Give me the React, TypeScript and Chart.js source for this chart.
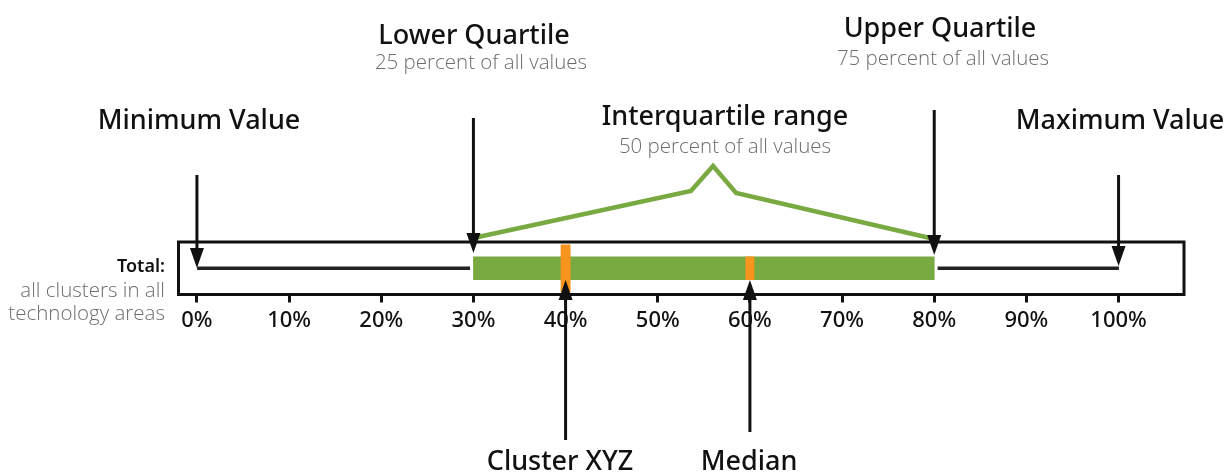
import React, { useEffect, useRef } from 'react';
import { Chart, registerables } from 'chart.js';

Chart.register(...registerables);

// ---- data ----
const categories = ['Total'];
const tickValues = [0, 10, 20, 30, 40, 50, 60, 70, 80, 90, 100];
const tickLabels = ['0%', '10%', '20%', '30%', '40%', '50%', '60%', '70%', '80%', '90%', '100%'];
const whiskerLow = [0, 29.6];
const whiskerHigh = [80.4, 100];
const interquartile = [30, 80];
const clusterXYZ = [39.5, 40.5];
const medianBar = [59.55, 60.45];
const minimumValue = 0;
const lowerQuartile = 30;
const upperQuartile = 80;
const maximumValue = 100;
const clusterValue = 40;
const medianValue = 60;
const iqrPeak = [30, 53.6, 56, 58.5, 80];

const GREEN = '#79a941';
const ORANGE = '#f7941d';
const INK = '#111111';
const GRAY = '#6d6d6d';
const HEAD = '"Noto Sans", sans-serif';
const LIGHT = '"Open Sans", sans-serif';

function arrow(ctx: CanvasRenderingContext2D, x: number, yFrom: number, yTip: number) {
  const dir = yTip > yFrom ? 1 : -1;
  const headLen = 20;
  const headHalf = 7;
  ctx.save();
  ctx.strokeStyle = INK;
  ctx.fillStyle = INK;
  ctx.lineWidth = 3;
  ctx.beginPath();
  ctx.moveTo(x, yFrom);
  ctx.lineTo(x, yTip - dir * headLen * 0.6);
  ctx.stroke();
  ctx.beginPath();
  ctx.moveTo(x, yTip);
  ctx.lineTo(x - headHalf, yTip - dir * headLen);
  ctx.lineTo(x + headHalf, yTip - dir * headLen);
  ctx.closePath();
  ctx.fill();
  ctx.restore();
}

function text(ctx: CanvasRenderingContext2D, s: string, x: number, y: number, font: string, color: string, align: CanvasTextAlign = 'center') {
  ctx.save();
  ctx.font = font;
  ctx.fillStyle = color;
  ctx.textAlign = align;
  ctx.textBaseline = 'alphabetic';
  ctx.fillText(s, x, y);
  ctx.restore();
}

const annotations = {
  id: 'annotations',
  afterDraw(chart: any) {
    const { ctx, chartArea } = chart;
    const xs = chart.scales.x;
    const X = (v: number) => xs.getPixelForValue(v);

    // frame
    ctx.save();
    ctx.strokeStyle = INK;
    ctx.lineWidth = 3;
    ctx.strokeRect(chartArea.left, chartArea.top, chartArea.right - chartArea.left, chartArea.bottom - chartArea.top);
    ctx.restore();

    // interquartile polyline
    const py = [238, 191, 166, 193, 239];
    ctx.save();
    ctx.strokeStyle = GREEN;
    ctx.lineWidth = 4.5;
    ctx.lineJoin = 'miter';
    ctx.beginPath();
    iqrPeak.forEach((v, i) => {
      const px = X(v);
      if (i === 0) ctx.moveTo(px, py[i]);
      else ctx.lineTo(px, py[i]);
    });
    ctx.stroke();
    ctx.restore();

    // arrows
    arrow(ctx, X(minimumValue), 175, 268);
    arrow(ctx, X(lowerQuartile), 118, 253);
    arrow(ctx, X(upperQuartile), 110, 255);
    arrow(ctx, X(maximumValue), 175, 266);
    arrow(ctx, X(clusterValue), 440, 280);
    arrow(ctx, X(medianValue), 432, 280);

    // texts
    const head = `500 27px ${HEAD}`;
    const sub = `300 20.5px ${LIGHT}`;
    text(ctx, 'Minimum Value', 199, 129, head, INK);
    text(ctx, 'Lower Quartile', 474, 44, head, INK);
    text(ctx, '25 percent of all values', 481, 69, sub, GRAY);
    text(ctx, 'Interquartile range', 725, 125, head, INK);
    text(ctx, '50 percent of all values', 725, 153, sub, GRAY);
    text(ctx, 'Upper Quartile', 940, 37, head, INK);
    text(ctx, '75 percent of all values', 943, 65, sub, GRAY);
    text(ctx, 'Maximum Value', 1120, 129, head, INK);
    text(ctx, 'Cluster XYZ', 560, 470, head, INK);
    text(ctx, 'Median', 749, 470, head, INK);
    text(ctx, 'Total:', 165, 272, `600 18px ${HEAD}`, INK, 'right');
    text(ctx, 'all clusters in all', 165, 297, `300 20.5px ${LIGHT}`, GRAY, 'right');
    text(ctx, 'technology areas', 165, 320, `300 20.5px ${LIGHT}`, GRAY, 'right');
  },
};

export default function App() {
  const ref = useRef<HTMLCanvasElement | null>(null);
  useEffect(() => {
    if (!ref.current) return;
    const chart = new Chart(ref.current, {
      type: 'bar',
      data: {
        labels: categories,
        datasets: [
          { label: 'Cluster XYZ', data: [clusterXYZ as any], backgroundColor: ORANGE, barThickness: 47, grouped: false } as any,
          { label: 'Median', data: [medianBar as any], backgroundColor: ORANGE, barThickness: 23, grouped: false } as any,
          { label: 'Interquartile range', data: [interquartile as any], backgroundColor: GREEN, barThickness: 23, grouped: false } as any,
          { label: 'Lower whisker', data: [whiskerLow as any], backgroundColor: '#222', barThickness: 3, grouped: false } as any,
          { label: 'Upper whisker', data: [whiskerHigh as any], backgroundColor: '#222', barThickness: 3, grouped: false } as any,
        ],
      },
      options: {
        indexAxis: 'y',
        responsive: false,
        animation: false,
        devicePixelRatio: 1,
        layout: { padding: { left: 178.5, right: 48, top: 242, bottom: 0 } },
        plugins: { legend: { display: false }, tooltip: { enabled: false } },
        scales: {
          y: { display: false },
          x: {
            min: -2,
            max: 107.1,
            afterBuildTicks: (axis: any) => {
              axis.ticks = tickValues.map((v) => ({ value: v }));
            },
            afterFit: (axis: any) => {
              axis.height = 181.5;
            },
            grid: { display: true, drawOnChartArea: false, drawTicks: true, tickLength: 8, tickWidth: 3, tickColor: INK },
            border: { display: false },
            ticks: {
              autoSkip: false,
              maxRotation: 0,
              padding: 5,
              color: INK,
              font: { family: 'Noto Sans', size: 22, weight: '500' },
              callback: (v: any) => {
                const i = tickValues.indexOf(Number(v));
                return i >= 0 ? tickLabels[i] : '';
              },
            },
          },
        },
      } as any,
      plugins: [annotations],
    });
    return () => chart.destroy();
  }, []);
  return (
    <div style={{ position: 'absolute', left: 0, top: 0, width: 1232, height: 476, background: '#fff' }}>
      <canvas ref={ref} width={1232} height={476} style={{ width: 1232, height: 476 }} />
    </div>
  );
}
